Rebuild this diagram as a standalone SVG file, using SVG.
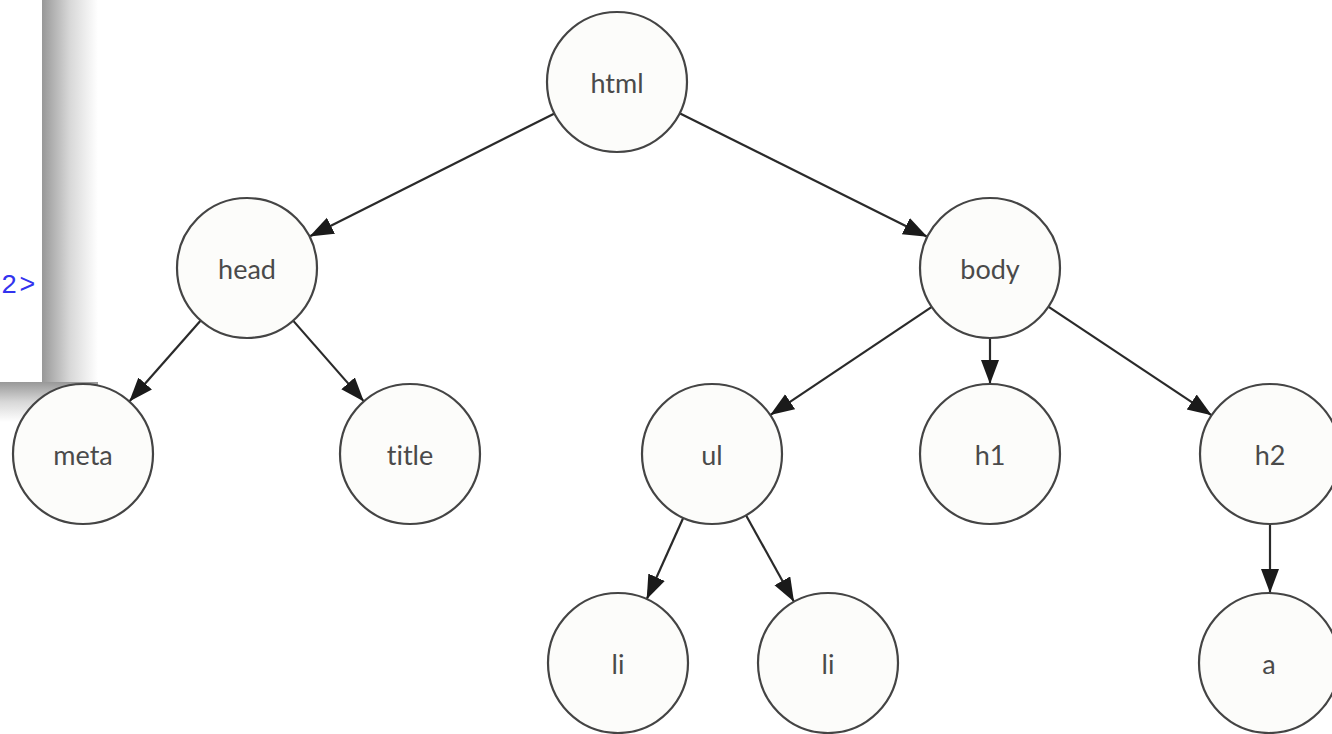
<svg xmlns="http://www.w3.org/2000/svg" width="1332" height="734" viewBox="0 0 1332 734">
<defs>
<linearGradient id="shR" x1="0" y1="0" x2="1" y2="0">
<stop offset="0" stop-color="#989898"/><stop offset="0.5" stop-color="#d8d8d8"/><stop offset="1" stop-color="#ffffff"/>
</linearGradient>
<linearGradient id="shB" x1="0" y1="0" x2="0" y2="1">
<stop offset="0" stop-color="#989898"/><stop offset="0.5" stop-color="#d8d8d8"/><stop offset="1" stop-color="#ffffff"/>
</linearGradient>
<marker id="arr" markerUnits="userSpaceOnUse" markerWidth="26" markerHeight="20" refX="24" refY="9" orient="auto">
<path d="M0,0 L24,9 L0,18 Z" fill="#1a1a1a"/>
</marker>
<style>
.node circle{fill:#fcfcfa;stroke:#444;stroke-width:2.2}
.node text{font-family:Lato,"Open Sans","DejaVu Sans",sans-serif;font-size:27px;fill:#4a4a4a;text-anchor:middle;dominant-baseline:central;font-variant-ligatures:none}
.edge{stroke:#2a2a2a;stroke-width:2.2;fill:none;marker-end:url(#arr)}
.code{font-family:"Liberation Mono","DejaVu Sans Mono",monospace;font-size:27px;fill:#3333ee}
</style>
</defs>
<rect width="1332" height="734" fill="#ffffff"/>
<g id="frame">
<rect x="42" y="0" width="56" height="420" fill="url(#shR)"/>
<rect x="0" y="382" width="98" height="40" fill="url(#shB)"/>
<rect x="0" y="0" width="42" height="382" fill="#ffffff"/>
<text class="code" x="1" y="293" letter-spacing="2">2&gt;</text>
</g>
<g id="connectors">
<line class="edge" x1="554.5" y1="113.4" x2="309.5" y2="236.6"/>
<line class="edge" x1="679.6" y1="113.2" x2="927.3" y2="236.8"/>
<line class="edge" x1="200.7" y1="320.5" x2="129.3" y2="401.5"/>
<line class="edge" x1="293.1" y1="320.6" x2="363.9" y2="401.4"/>
<line class="edge" x1="931.8" y1="306.9" x2="770.2" y2="415.1"/>
<line class="edge" x1="990" y1="338" x2="990" y2="384"/>
<line class="edge" x1="1048.3" y1="306.7" x2="1211.7" y2="415.3"/>
<line class="edge" x1="683.3" y1="517.8" x2="646.7" y2="599.2"/>
<line class="edge" x1="746" y1="515.2" x2="794" y2="601.8"/>
<line class="edge" x1="1270" y1="524" x2="1270" y2="593"/>
</g>
<g id="n-html" class="node"><circle cx="617" cy="82" r="70"/><text x="617" y="82">html</text></g>
<g id="n-head" class="node"><circle cx="247" cy="268" r="70"/><text x="247" y="268">head</text></g>
<g id="n-body" class="node"><circle cx="990" cy="268" r="70"/><text x="990" y="268">body</text></g>
<g id="n-meta" class="node"><circle cx="83" cy="454" r="70"/><text x="83" y="454">meta</text></g>
<g id="n-title" class="node"><circle cx="410" cy="454" r="70"/><text x="410" y="454">title</text></g>
<g id="n-ul" class="node"><circle cx="712" cy="454" r="70"/><text x="712" y="454">ul</text></g>
<g id="n-h1" class="node"><circle cx="990" cy="454" r="70"/><text x="990" y="454">h1</text></g>
<g id="n-h2" class="node"><circle cx="1270" cy="454" r="70"/><text x="1270" y="454">h2</text></g>
<g id="n-li1" class="node"><circle cx="618" cy="663" r="70"/><text x="618" y="663">li</text></g>
<g id="n-li2" class="node"><circle cx="828" cy="663" r="70"/><text x="828" y="663">li</text></g>
<g id="n-a" class="node"><circle cx="1269" cy="663" r="70"/><text x="1269" y="663">a</text></g>
</svg>
